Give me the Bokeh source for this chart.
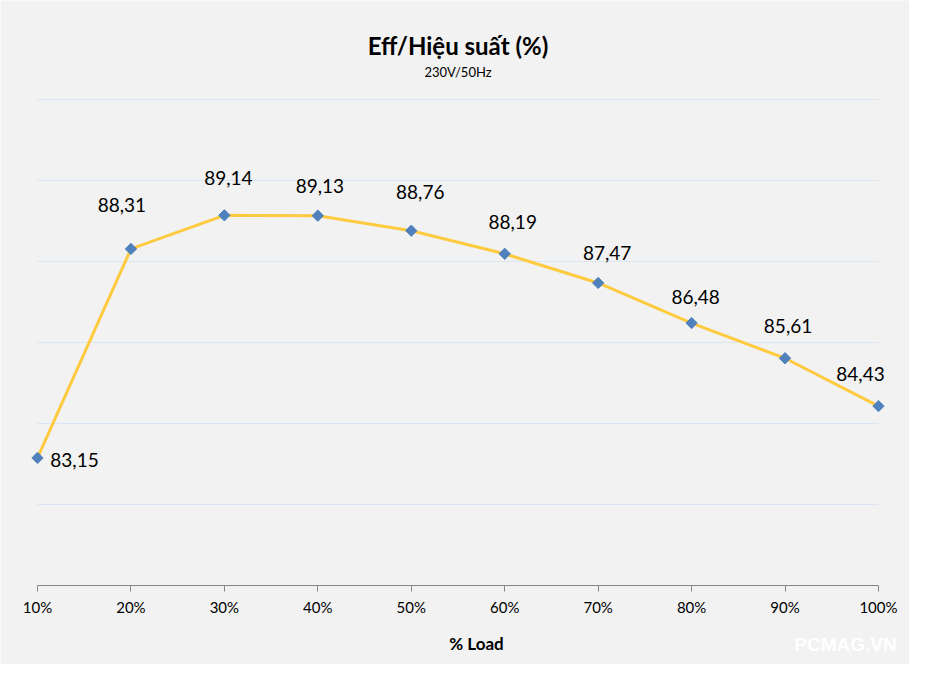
import math
from bokeh.plotting import figure
from bokeh.models import ColumnDataSource, Range1d, FixedTicker, Label
from bokeh.core.properties import value
from bokeh.embed import file_html
from bokeh.resources import INLINE

# ---- data ----
categories = ["10%", "20%", "30%", "40%", "50%", "60%", "70%", "80%", "90%", "100%"]
efficiency = [83.15, 88.31, 89.14, 89.13, 88.76, 88.19, 87.47, 86.48, 85.61, 84.43]
label_texts = ["83,15", "88,31", "89,14", "89,13", "88,76", "88,19", "87,47", "86,48", "85,61", "84,43"]
grid_values = [82, 84, 86, 88, 90, 92]
y_axis_base = 80

# ---- layout (label offsets in screen pixels) ----
label_dx = [37, -9, 4, 2, 9, 8, 9, 4, 3, -18]
label_dy = [2, -44, -37, -30, -39, -32, -30, -26, -32, -32]

FONT = "Lato"
BG = "#f2f2f2"

xs = list(range(1, len(categories) + 1))
src = ColumnDataSource(dict(x=xs, y=efficiency, t=label_texts, dx=label_dx, dy=label_dy))

p = figure(width=909, height=664, output_backend="svg", toolbar_location=None,
           x_range=Range1d(0.604, 10.332), y_range=Range1d(78.049, 94.444),
           y_axis_location=None, min_border_left=0, min_border_right=0,
           min_border_top=0, min_border_bottom=0)
p.background_fill_color = BG
p.border_fill_color = BG
p.outline_line_color = None
p.xgrid.visible = False
p.ygrid.visible = False

# horizontal gridlines spanning first to last category
p.segment(x0=[xs[0]] * len(grid_values), x1=[xs[-1]] * len(grid_values),
          y0=grid_values, y1=grid_values, line_color="#dce6f2", line_width=1)

ax = p.xaxis[0]
ax.fixed_location = y_axis_base
ax.ticker = FixedTicker(ticks=xs)
ax.major_label_overrides = {x: c for x, c in zip(xs, categories)}
ax.bounds = (xs[0], xs[-1])
ax.axis_line_color = "#868686"
ax.major_tick_line_color = "#868686"
ax.major_tick_out = 6
ax.major_tick_in = 0
ax.minor_tick_line_color = None
ax.major_label_text_font = FONT
ax.major_label_text_font_size = "15px"
ax.major_label_text_color = "#000000"
ax.major_label_standoff = 7

p.line("x", "y", source=src, line_color="#fdca40", line_width=3)
p.scatter("x", "y", source=src, marker="square", size=8, angle=math.pi / 4,
          fill_color="#4f81bd", line_color="#4f81bd")
p.text("x", "y", text="t", source=src, x_offset="dx", y_offset="dy",
       text_font=value(FONT), text_font_size="19px", text_color="#000000",
       text_align="center", text_baseline="middle")

p.add_layout(Label(x=5.5, y=619, y_units="screen", text="Eff/Hiệu suất (%)",
                   text_font=FONT, text_font_size="24px", text_font_style="bold",
                   text_align="center", text_baseline="middle", text_color="#000000"))
p.add_layout(Label(x=5.5, y=593, y_units="screen", text="230V/50Hz",
                   text_font=FONT, text_font_size="13px",
                   text_align="center", text_baseline="middle", text_color="#000000"))
p.add_layout(Label(x=5.698, y=21, y_units="screen", text="% Load",
                   text_font=FONT, text_font_size="17px", text_font_style="bold",
                   text_align="center", text_baseline="middle", text_color="#000000"))
p.add_layout(Label(x=845, y=20, x_units="screen", y_units="screen", text="PCMAG.VN",
                   text_font="Liberation Sans", text_font_size="19px", text_font_style="bold",
                   text_align="center", text_baseline="middle", text_color="#ffffff"))

open("out.html", "w").write(file_html(p, INLINE))
